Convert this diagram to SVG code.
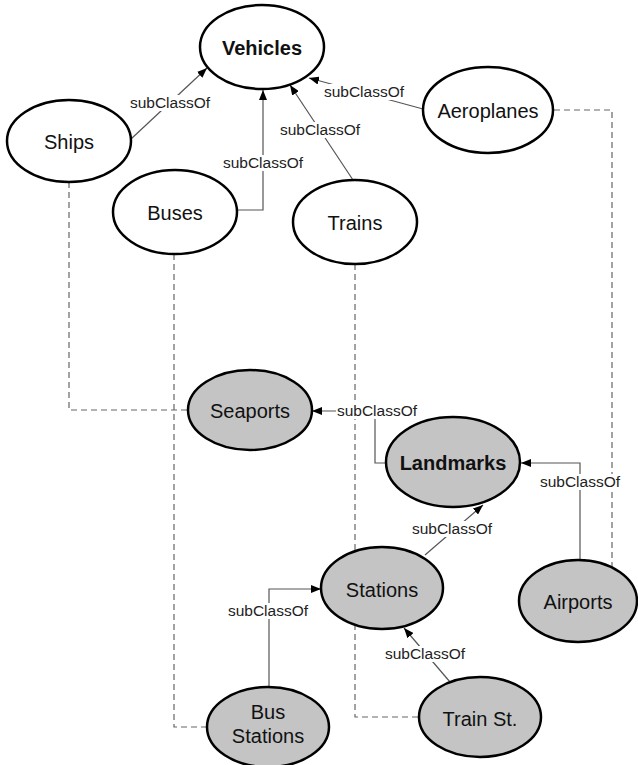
<svg xmlns="http://www.w3.org/2000/svg" width="638" height="765" viewBox="0 0 638 765">
<defs>
<marker id="arr" markerUnits="userSpaceOnUse" markerWidth="10" markerHeight="8" refX="10" refY="4" orient="auto">
<path d="M0,0 L10,4 L0,8 z" fill="#000"/>
</marker>
<style>
.n{stroke:#000;stroke-width:2.5}
.w{fill:#fff}
.g{fill:#c4c4c4}
.t{font-family:"Liberation Sans",Arial,sans-serif;font-size:20px;text-anchor:middle;fill:#111}
.b{font-weight:bold}
.e{fill:none;stroke:#555;stroke-width:1.2}
.d{fill:none;stroke:#666;stroke-width:1.2;stroke-dasharray:6,4}
.lb{fill:#fff}
.l{font-family:"Liberation Sans",Arial,sans-serif;font-size:15.5px;text-anchor:middle;fill:#222}
</style>
</defs>
<rect width="638" height="765" fill="#fff"/>
<g id="connectors">
<path class="d" d="M69,182 V410 H188"/>
<path class="d" d="M174,254 V727 H207"/>
<path class="d" d="M355,264 V717 H419"/>
<path class="d" d="M554,110 H612 V567"/>
<path class="e" marker-end="url(#arr)" d="M131,139 L207,68"/>
<path class="e" marker-end="url(#arr)" d="M237,210 H263 V90"/>
<path class="e" marker-end="url(#arr)" d="M353,180 L290,85"/>
<path class="e" marker-end="url(#arr)" d="M423,109 L309,78"/>
<path class="e" marker-end="url(#arr)" d="M386,463 H375 V411 H312"/>
<path class="e" marker-end="url(#arr)" d="M580,560 V463 H521"/>
<path class="e" marker-end="url(#arr)" d="M425,555 L483,505"/>
<path class="e" marker-end="url(#arr)" d="M269,687 V589 H321"/>
<path class="e" marker-end="url(#arr)" d="M450,682 L404,628"/>
<g>
<rect class="lb" x="129" y="95" width="82" height="16"/><text class="l" x="170" y="108">subClassOf</text>
<rect class="lb" x="222" y="155" width="82" height="16"/><text class="l" x="263" y="168">subClassOf</text>
<rect class="lb" x="279" y="122" width="82" height="16"/><text class="l" x="320" y="135">subClassOf</text>
<rect class="lb" x="323" y="84" width="82" height="16"/><text class="l" x="364" y="97">subClassOf</text>
<rect class="lb" x="336" y="403" width="82" height="16"/><text class="l" x="377" y="416">subClassOf</text>
<rect class="lb" x="539" y="474" width="82" height="16"/><text class="l" x="580" y="487">subClassOf</text>
<rect class="lb" x="411" y="521" width="82" height="16"/><text class="l" x="452" y="534">subClassOf</text>
<rect class="lb" x="227" y="603" width="82" height="16"/><text class="l" x="268" y="616">subClassOf</text>
<rect class="lb" x="384" y="646" width="82" height="16"/><text class="l" x="425" y="659">subClassOf</text>
</g>
</g>
<g id="vehicles"><ellipse class="n w" cx="262" cy="47" rx="62" ry="42"/><text class="t b" x="262" y="55">Vehicles</text></g>
<g id="ships"><ellipse class="n w" cx="69" cy="141" rx="62" ry="41"/><text class="t" x="69" y="149">Ships</text></g>
<g id="buses"><ellipse class="n w" cx="175" cy="212" rx="62" ry="42"/><text class="t" x="175" y="220">Buses</text></g>
<g id="trains"><ellipse class="n w" cx="355" cy="222" rx="62" ry="42"/><text class="t" x="355" y="230">Trains</text></g>
<g id="aeroplanes"><ellipse class="n w" cx="488" cy="110" rx="65" ry="43"/><text class="t" x="488" y="118">Aeroplanes</text></g>
<g id="seaports"><ellipse class="n g" cx="250" cy="410" rx="62" ry="40"/><text class="t" x="250" y="418">Seaports</text></g>
<g id="landmarks"><ellipse class="n g" cx="453" cy="462" rx="67" ry="45"/><text class="t b" x="453" y="470">Landmarks</text></g>
<g id="stations"><ellipse class="n g" cx="382" cy="588" rx="61" ry="41"/><text class="t" x="382" y="597">Stations</text></g>
<g id="airports"><ellipse class="n g" cx="578" cy="601" rx="59" ry="41"/><text class="t" x="578" y="609">Airports</text></g>
<g id="bus-stations"><ellipse class="n g" cx="268" cy="727" rx="61" ry="40"/><text class="t" x="268" y="719">Bus</text><text class="t" x="268" y="743">Stations</text></g>
<g id="train-st"><ellipse class="n g" cx="480" cy="717" rx="61" ry="40"/><text class="t" x="480" y="726">Train St.</text></g>
</svg>
